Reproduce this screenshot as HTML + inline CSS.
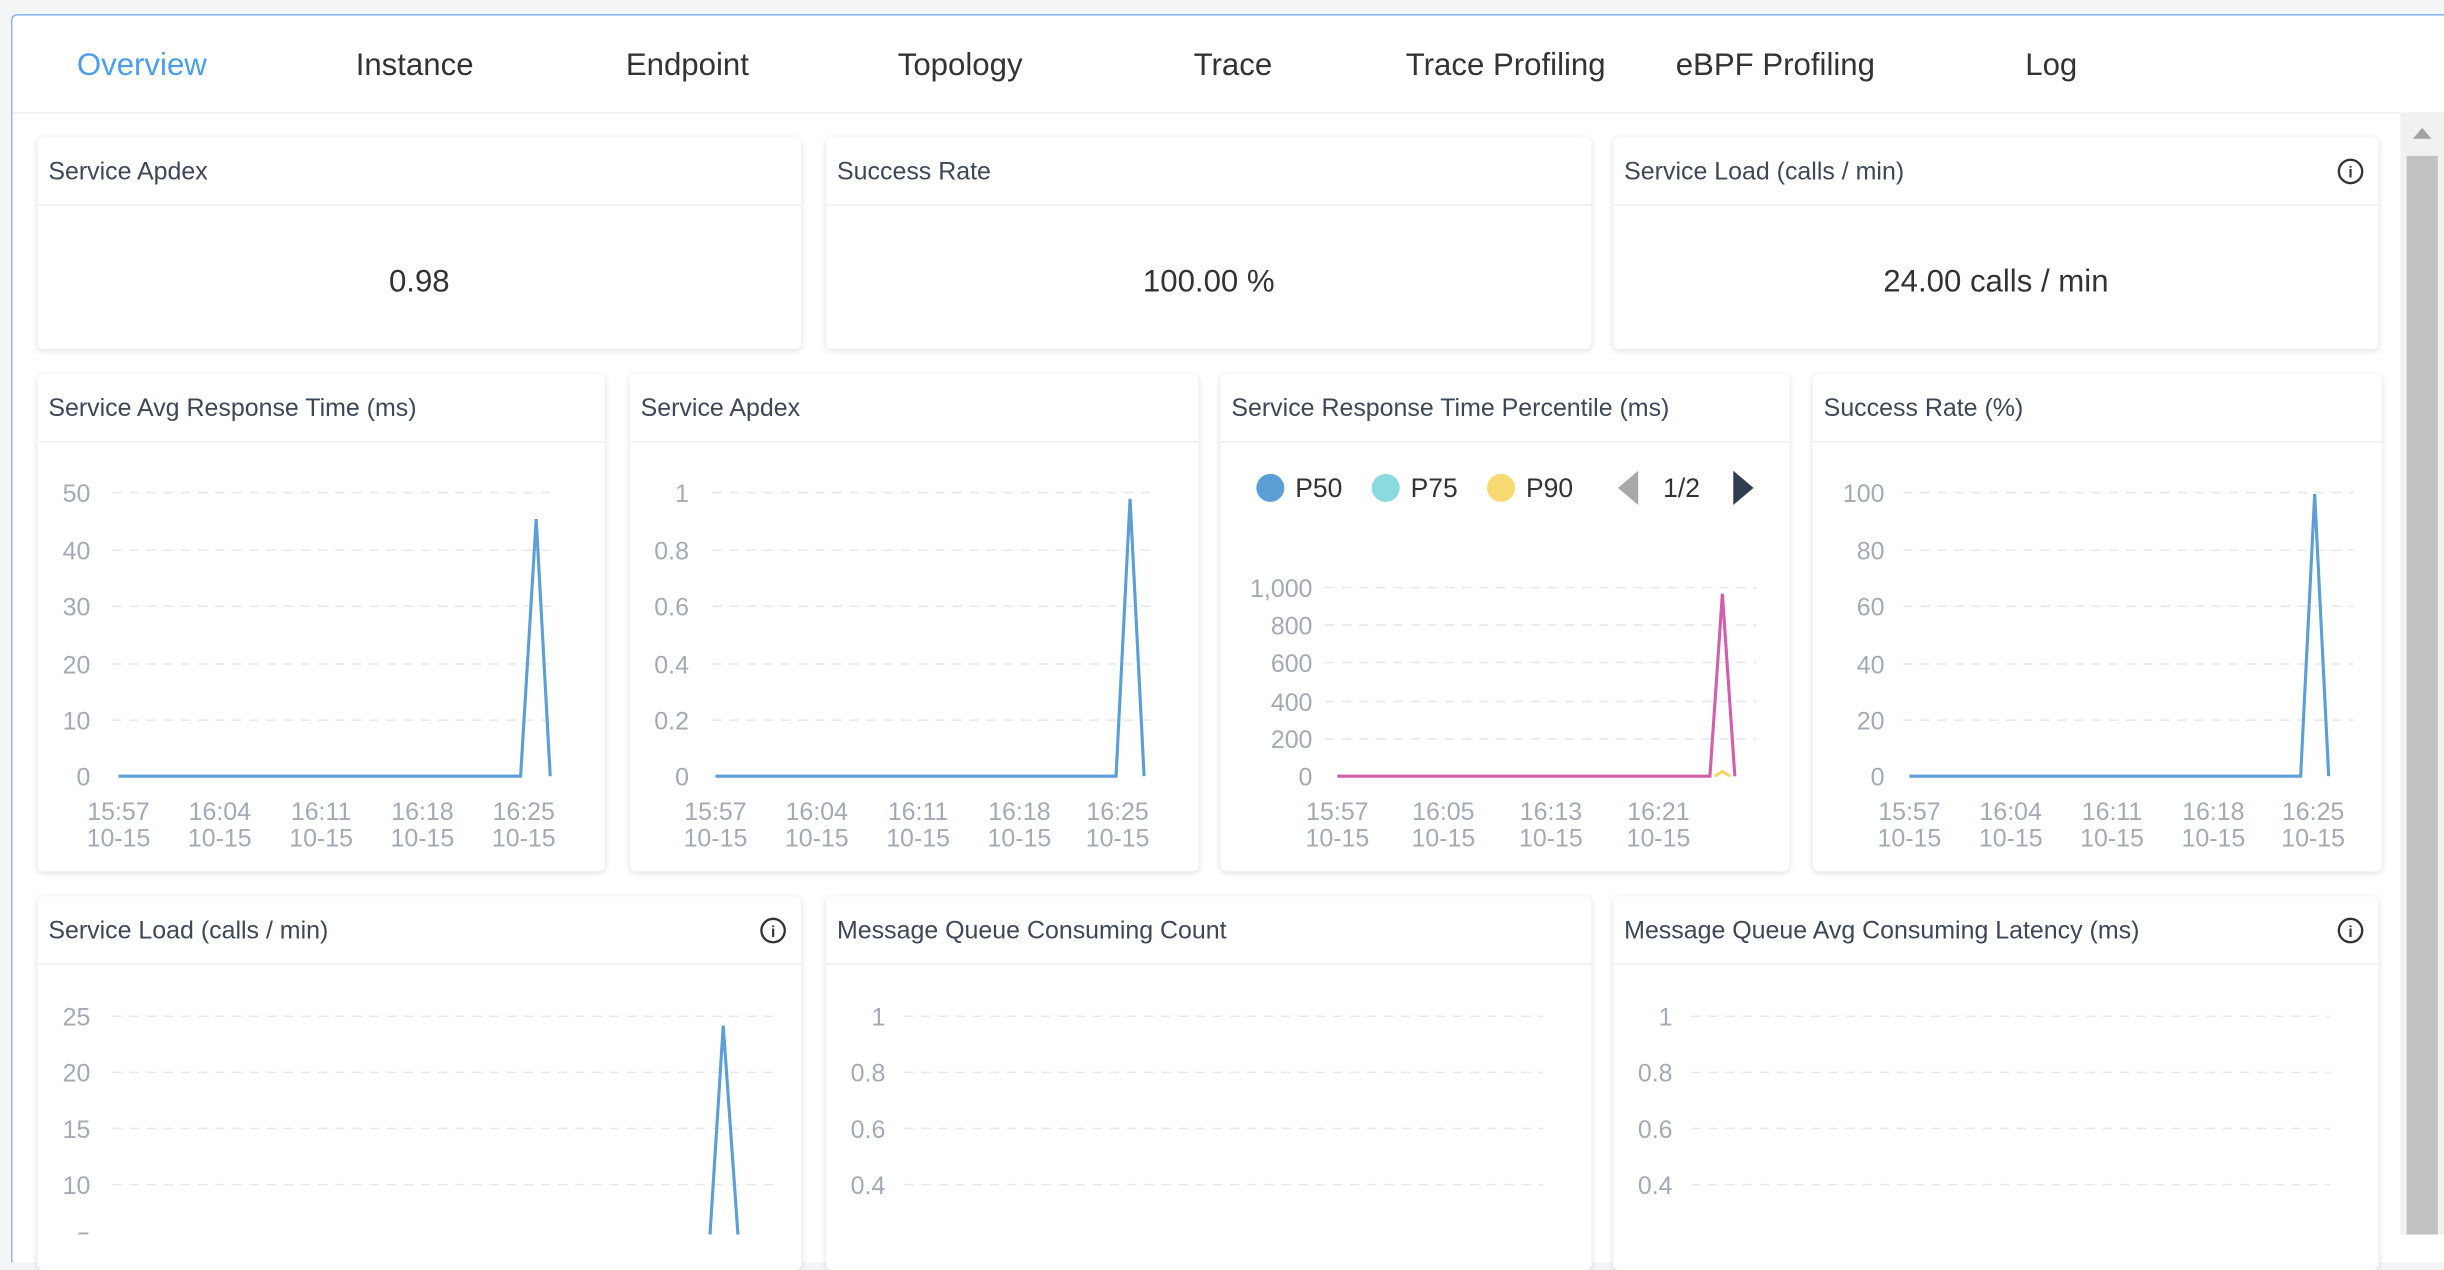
<!DOCTYPE html>
<html><head><meta charset="utf-8"><style>
html,body{margin:0;padding:0;width:2444px;height:1234px;overflow:hidden;background:#f4f5f7;}
#w{position:absolute;left:0;top:0;width:1568px;height:792px;transform:scale(1.5587);transform-origin:0 0;font-family:"Liberation Sans",sans-serif;}
.panel{position:absolute;left:7px;top:9px;width:1570px;height:800px;background:#fff;border-top:1.5px solid #8cb8f0;border-left:1.5px solid #8cb8f0;border-radius:4px 0 0 0;}
.tab{position:absolute;top:31px;font-size:20px;color:#333;transform:translateX(-50%);white-space:nowrap;}
.card{position:absolute;background:#fff;border-radius:4px;box-shadow:0 1px 4px rgba(0,0,0,.13);}
.card .h{height:44px;border-bottom:1px solid #eceef1;font-size:16px;color:#3d4757;line-height:46px;padding-left:7px;box-sizing:border-box;}
.val{position:absolute;left:0;right:0;top:82px;text-align:center;font-size:20px;color:#333;}
svg{position:absolute;left:0;top:0;}
</style></head><body><div id="w">
<div class="panel"></div>
<div style="position:absolute;left:8px;top:72px;width:1532px;height:1px;background:#eceef1"></div>
<div class="tab" style="left:91px;color:#4a9df0">Overview</div>
<div class="tab" style="left:266px">Instance</div>
<div class="tab" style="left:441px">Endpoint</div>
<div class="tab" style="left:616px">Topology</div>
<div class="tab" style="left:791px">Trace</div>
<div class="tab" style="left:966px">Trace Profiling</div>
<div class="tab" style="left:1139px">eBPF Profiling</div>
<div class="tab" style="left:1316px">Log</div>
<div style="position:absolute;left:1540px;top:72px;width:28px;height:720px;background:#f1f1f1"></div>
<div style="position:absolute;left:1544px;top:100px;width:20px;height:692px;background:#c1c1c1"></div>
<div style="position:absolute;left:1548px;top:82px;width:0;height:0;border-left:6px solid transparent;border-right:6px solid transparent;border-bottom:7px solid #a3a3a3"></div>

<div class="card" style="left:24px;top:88px;width:490px;height:136px"><div class="h">Service Apdex</div><div class="val">0.98</div></div>
<div class="card" style="left:530px;top:88px;width:491px;height:136px"><div class="h">Success Rate</div><div class="val">100.00 %</div></div>
<div class="card" style="left:1035px;top:88px;width:491px;height:136px"><div class="h">Service Load (calls / min)</div><div class="val">24.00 calls / min</div></div>

<div class="card" style="left:24px;top:240px;width:364px;height:319px"><div class="h">Service Avg Response Time (ms)</div></div>
<div class="card" style="left:404px;top:240px;width:365px;height:319px"><div class="h">Service Apdex</div></div>
<div class="card" style="left:783px;top:240px;width:365px;height:319px"><div class="h">Service Response Time Percentile (ms)</div></div>
<div class="card" style="left:1163px;top:240px;width:365px;height:319px"><div class="h">Success Rate (%)</div></div>

<div class="card" style="left:24px;top:575px;width:490px;height:240px"><div class="h">Service Load (calls / min)</div></div>
<div class="card" style="left:530px;top:575px;width:491px;height:240px"><div class="h">Message Queue Consuming Count</div></div>
<div class="card" style="left:1035px;top:575px;width:491px;height:240px"><div class="h">Message Queue Avg Consuming Latency (ms)</div></div>

<svg width="1568" height="792" font-family="Liberation Sans, sans-serif">
<g fill="none" stroke="#333" stroke-width="1.5">
<circle cx="1508" cy="110" r="7.5"/><circle cx="496" cy="597" r="7.5"/><circle cx="1508" cy="597" r="7.5"/>
</g>
<g fill="#333" font-size="10" font-weight="bold" text-anchor="middle">
<text x="1508" y="114">i</text><text x="496" y="601">i</text><text x="1508" y="601">i</text>
</g>
<g stroke="#e6e8ec" stroke-dasharray="6,5" stroke-width="1">
<path d="M72 316H357M72 353H357M72 389H357M72 426H357M72 462H357"/>
<path d="M457 316H740M457 353H740M457 389H740M457 426H740M457 462H740"/>
<path d="M850 377H1127M850 401H1127M850 425H1127M850 450H1127M850 474H1127"/>
<path d="M1221 316H1510M1221 353H1510M1221 389H1510M1221 426H1510M1221 462H1510"/>
<path d="M72 652H500M72 688H500M72 724H500M72 760H500"/>
<path d="M580 652H990M580 688H990M580 724H990M580 760H990"/>
<path d="M1085 652H1495M1085 688H1495M1085 724H1495M1085 760H1495"/>
</g>
<g fill="#a3aab6" font-size="16" text-anchor="end">
<text x="58" y="322">50</text><text x="58" y="359">40</text><text x="58" y="395">30</text><text x="58" y="432">20</text><text x="58" y="468">10</text><text x="58" y="504">0</text>
<text x="442" y="322">1</text><text x="442" y="359">0.8</text><text x="442" y="395">0.6</text><text x="442" y="432">0.4</text><text x="442" y="468">0.2</text><text x="442" y="504">0</text>
<text x="842" y="383">1,000</text><text x="842" y="407">800</text><text x="842" y="431">600</text><text x="842" y="456">400</text><text x="842" y="480">200</text><text x="842" y="504">0</text>
<text x="1209" y="322">100</text><text x="1209" y="359">80</text><text x="1209" y="395">60</text><text x="1209" y="432">40</text><text x="1209" y="468">20</text><text x="1209" y="504">0</text>
<text x="58" y="658">25</text><text x="58" y="694">20</text><text x="58" y="730">15</text><text x="58" y="766">10</text><text x="58" y="802">5</text>
<text x="568" y="658">1</text><text x="568" y="694">0.8</text><text x="568" y="730">0.6</text><text x="568" y="766">0.4</text>
<text x="1073" y="658">1</text><text x="1073" y="694">0.8</text><text x="1073" y="730">0.6</text><text x="1073" y="766">0.4</text>
</g>
<g fill="#a3aab6" font-size="16" text-anchor="middle">
<text x="76" y="526">15:57</text><text x="141" y="526">16:04</text><text x="206" y="526">16:11</text><text x="271" y="526">16:18</text><text x="336" y="526">16:25</text>
<text x="76" y="543">10-15</text><text x="141" y="543">10-15</text><text x="206" y="543">10-15</text><text x="271" y="543">10-15</text><text x="336" y="543">10-15</text>
<text x="459" y="526">15:57</text><text x="524" y="526">16:04</text><text x="589" y="526">16:11</text><text x="654" y="526">16:18</text><text x="717" y="526">16:25</text>
<text x="459" y="543">10-15</text><text x="524" y="543">10-15</text><text x="589" y="543">10-15</text><text x="654" y="543">10-15</text><text x="717" y="543">10-15</text>
<text x="858" y="526">15:57</text><text x="926" y="526">16:05</text><text x="995" y="526">16:13</text><text x="1064" y="526">16:21</text>
<text x="858" y="543">10-15</text><text x="926" y="543">10-15</text><text x="995" y="543">10-15</text><text x="1064" y="543">10-15</text>
<text x="1225" y="526">15:57</text><text x="1290" y="526">16:04</text><text x="1355" y="526">16:11</text><text x="1420" y="526">16:18</text><text x="1484" y="526">16:25</text>
<text x="1225" y="543">10-15</text><text x="1290" y="543">10-15</text><text x="1355" y="543">10-15</text><text x="1420" y="543">10-15</text><text x="1484" y="543">10-15</text>
</g>
<g fill="none" stroke="#5b9fd6" stroke-width="2">
<path d="M76 498H334L344 333L353 498"/>
<path d="M459 498H716L725 320L734 498"/>
<path d="M1225 498H1476L1485 317L1494 498"/>
<path d="M455 800L464 658L474 800"/>
</g>
<path d="M1100 498L1105 495L1110 498" fill="none" stroke="#f7d46a" stroke-width="2"/>
<path d="M858 498H1097L1105 381L1113 498" fill="none" stroke="#d45fa9" stroke-width="2"/>
<g font-size="17" fill="#333">
<circle cx="815" cy="313" r="9" fill="#5b9fd6"/><text x="831" y="319">P50</text>
<circle cx="889" cy="313" r="9" fill="#8adbe0"/><text x="905" y="319">P75</text>
<circle cx="963" cy="313" r="9" fill="#f7db72"/><text x="979" y="319">P90</text>
<path d="M1051 302L1038 313L1051 324Z" fill="#a8a8a8"/>
<text x="1067" y="319">1/2</text>
<path d="M1112 302L1125 313L1112 324Z" fill="#2f3e4e"/>
</g>
</svg>
</div></body></html>
